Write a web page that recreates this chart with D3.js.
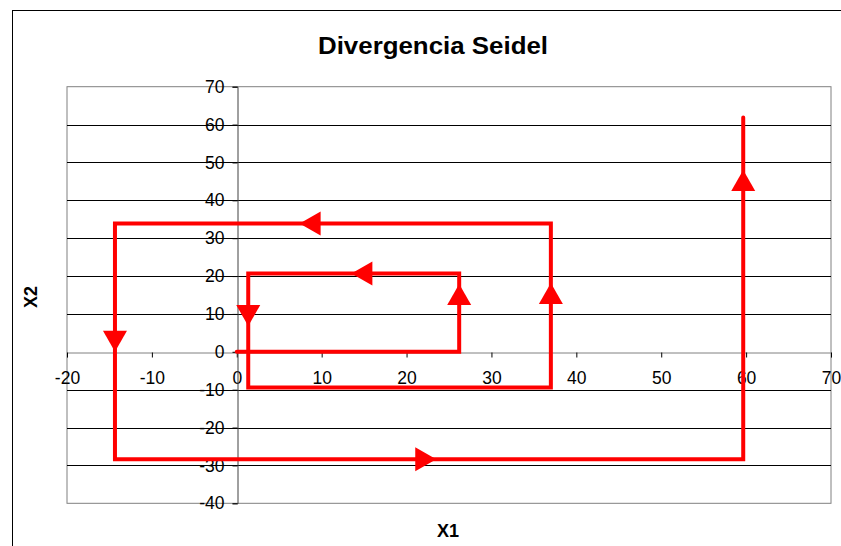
<!DOCTYPE html>
<html>
<head>
<meta charset="utf-8">
<script src="https://cdn.jsdelivr.net/npm/d3@7"></script>
<style>
  html, body { margin: 0; padding: 0; background: #fff; }
  svg { display: block; font-family: "Liberation Sans", Arial, sans-serif; }
</style>
</head>
<body>
<svg id="chart" width="841" height="546"></svg>
<script>
// Gauss-Seidel iterates (x1_k, x2_k), k = 0..5
const x1Iter = [0, 26.2, 1.35, 37.0, -14.35, 59.66];
const x2Iter = [0, 20.7, -9.4, 33.9, -28.4, 61.9];

// Direction arrows: tip position in data units and pointing direction
const arrowX   = [26.2, 13.5, 1.35, 37.0, 7.4, -14.35, 23.5, 59.66];
const arrowY   = [17.9, 20.7, 6.8, 18.2, 33.9, 0, -28.4, 48];
const arrowDir = ["up", "left", "down", "up", "left", "down", "right", "up"];

const xTicks = [-20, -10, 0, 10, 20, 30, 40, 50, 60, 70];
const yTicks = [70, 60, 50, 40, 30, 20, 10, 0, -10, -20, -30, -40];

const title = "Divergencia Seidel";
const xTitle = "X1";
const yTitle = "X2";

const svg = d3.select("#chart");
const W = 841, H = 546;
const plot = { left: 67, right: 831, top: 86.7, bottom: 503.3 };

const x = d3.scaleLinear().domain([-20, 70]).range([plot.left, plot.right]);
const y = d3.scaleLinear().domain([-40, 70]).range([plot.bottom, plot.top]);

// plain hyphen-minus labels
const fmt = d => String(d);

// chart frame
svg.append("rect").attr("x", 12.5).attr("y", 10.5)
  .attr("width", W + 20).attr("height", H + 20)
  .attr("fill", "#fff").attr("stroke", "#000").attr("stroke-width", 1);

// plot area
svg.append("rect")
  .attr("x", plot.left).attr("y", plot.top)
  .attr("width", plot.right - plot.left).attr("height", plot.bottom - plot.top)
  .attr("fill", "#fff").attr("stroke", "#808080").attr("stroke-width", 1);

// horizontal gridlines
svg.append("g").selectAll("line")
  .data(yTicks.filter(v => v !== 70 && v !== -40 && v !== 0))
  .join("line")
  .attr("x1", plot.left).attr("x2", plot.right)
  .attr("y1", d => Math.round(y(d)) + 0.5).attr("y2", d => Math.round(y(d)) + 0.5)
  .attr("stroke", "#000").attr("stroke-width", 1);

// x axis at x2 = 0
const xAxis = d3.axisBottom(x).tickValues(xTicks).tickSize(5).tickPadding(14)
  .tickFormat(fmt);
const gx = svg.append("g")
  .attr("transform", `translate(0,${Math.round(y(0)) + 0.5})`)
  .call(xAxis);
gx.select(".domain").attr("stroke", "#808080");
gx.selectAll(".tick line").attr("stroke", "#000");
gx.selectAll(".tick text").attr("font-size", 17.5).attr("fill", "#000")
  .attr("font-family", "Liberation Sans, Arial, sans-serif");

// y axis at x1 = 0
const yAxis = d3.axisLeft(y).tickValues(yTicks).tickSize(5).tickPadding(8)
  .tickFormat(fmt);
const gy = svg.append("g")
  .attr("transform", `translate(${Math.round(x(0)) + 0.5},0)`)
  .call(yAxis);
gy.select(".domain").attr("stroke", "#404040");
gy.selectAll(".tick line").attr("stroke", "#000");
gy.selectAll(".tick text").attr("font-size", 17.5).attr("fill", "#000")
  .attr("font-family", "Liberation Sans, Arial, sans-serif");

// staircase path of the iteration
const pts = [[x1Iter[0], x2Iter[0]]];
for (let k = 1; k < x1Iter.length; k++) {
  pts.push([x1Iter[k], x2Iter[k - 1]]);
  pts.push([x1Iter[k], x2Iter[k]]);
}
const line = d3.line().x(d => x(d[0])).y(d => y(d[1]));
svg.append("path")
  .attr("d", line(pts))
  .attr("fill", "none").attr("stroke", "#ff0000")
  .attr("stroke-width", 4).attr("stroke-linejoin", "miter")
  .attr("stroke-linecap", "round");

// arrowheads
const aLen = 21, aHalf = 12;
const rot = { up: 0, right: 90, down: 180, left: 270 };
svg.append("g").selectAll("path")
  .data(arrowX.map((v, i) => ({ x: v, y: arrowY[i], dir: arrowDir[i] })))
  .join("path")
  .attr("d", `M0,0 L${aHalf},${aLen} L${-aHalf},${aLen} Z`)
  .attr("transform", d => `translate(${x(d.x)},${y(d.y)}) rotate(${rot[d.dir]})`)
  .attr("fill", "#ff0000");

// titles
svg.append("text").attr("x", 433).attr("y", 54)
  .attr("text-anchor", "middle").attr("font-size", 23).attr("font-weight", "bold")
  .attr("textLength", 230).attr("lengthAdjust", "spacingAndGlyphs")
  .text(title);
svg.append("text").attr("x", 448).attr("y", 537)
  .attr("text-anchor", "middle").attr("font-size", 18).attr("font-weight", "bold")
  .text(xTitle);
svg.append("text")
  .attr("transform", `translate(37,297) rotate(-90)`)
  .attr("text-anchor", "middle").attr("font-size", 18).attr("font-weight", "bold")
  .text(yTitle);
</script>
</body>
</html>
